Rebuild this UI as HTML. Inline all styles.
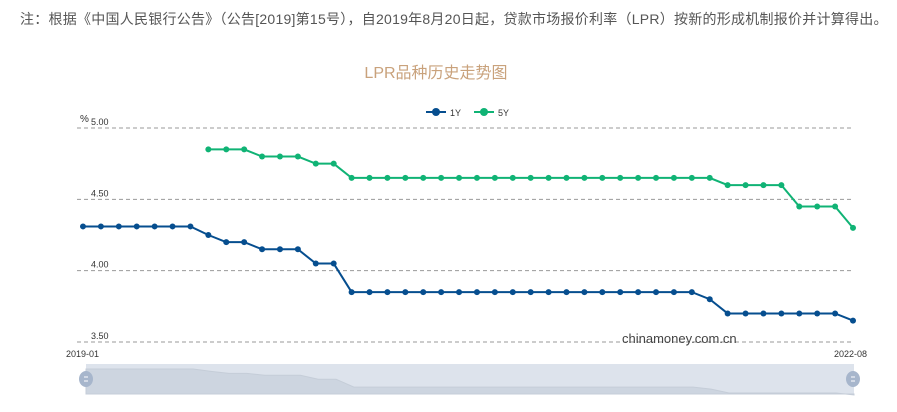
<!DOCTYPE html>
<html><head><meta charset="utf-8"><style>
body{margin:0;width:897px;height:412px;background:#fff;overflow:hidden;font-family:"Liberation Sans","Noto Sans CJK SC",sans-serif;}
#note{position:absolute;left:20px;top:9px;font-size:14px;color:#555;white-space:nowrap;letter-spacing:0.25px}
svg{position:absolute;left:0;top:0}
</style></head><body>
<div id="note">注：根据《中国人民银行公告》（公告[2019]第15号），自2019年8月20日起，贷款市场报价利率（LPR）按新的形成机制报价并计算得出。</div>
<svg id="c" width="897" height="412"></svg>
<script>
const yTicks=[5.00,4.50,4.00,3.50];
const xLabels=["2019-01","2022-08"];
const series1Y=[4.31,4.31,4.31,4.31,4.31,4.31,4.31,4.25,4.20,4.20,4.15,4.15,4.15,4.05,4.05,3.85,3.85,3.85,3.85,3.85,3.85,3.85,3.85,3.85,3.85,3.85,3.85,3.85,3.85,3.85,3.85,3.85,3.85,3.85,3.85,3.80,3.70,3.70,3.70,3.70,3.70,3.70,3.70,3.65];
const series5Y=[null,null,null,null,null,null,null,4.85,4.85,4.85,4.80,4.80,4.80,4.75,4.75,4.65,4.65,4.65,4.65,4.65,4.65,4.65,4.65,4.65,4.65,4.65,4.65,4.65,4.65,4.65,4.65,4.65,4.65,4.65,4.65,4.65,4.60,4.60,4.60,4.60,4.45,4.45,4.45,4.30];
const NS="http://www.w3.org/2000/svg",svg=document.getElementById('c');
const n=series1Y.length;
const X=i=>83+i*(770/(n-1));
const Y=v=>128+(5.0-v)*(214/1.5);
function el(t,a,p){const e=document.createElementNS(NS,t);for(const k in a)e.setAttribute(k,a[k]);(p||svg).appendChild(e);return e;}
let t=el('text',{x:436,y:78,'text-anchor':'middle','font-size':16,fill:'#c9a27c'});t.textContent='LPR品种历史走势图';


el('text',{x:80,y:122,'font-size':10,fill:'#333'}).textContent='%';
yTicks.forEach(v=>{
 const l=el('line',{x1:77,x2:852,y1:Y(v),y2:Y(v),stroke:'#999','stroke-dasharray':'4,3'});
 
 
 const tx=el('text',{x:91,y:Y(v)-3,'font-size':9,fill:'#333'});tx.textContent=v.toFixed(2);
 
 
});
[[66,xLabels[0]],[834,xLabels[1]]].forEach(([x,s])=>{const tx=el('text',{x:x,y:357,'font-size':9,fill:'#333'});tx.textContent=s;
 
 });
el('text',{x:622,y:343,'font-size':13,fill:'#444'}).textContent='chinamoney.com.cn';
function draw(data,color,name){
 const g=el('g',{});
 
 
 let d='';data.forEach((v,i)=>{if(v==null)return;d+=(d?'L':'M')+X(i)+','+Y(v);});
 el('path',{d:d,fill:'none',stroke:color,'stroke-width':2},g);
 data.forEach((v,i)=>{if(v==null)return;const c=el('circle',{cx:X(i),cy:Y(v),r:3,fill:color},g);
  
  });
}
draw(series1Y,'#064e8f','series-1y');
draw(series5Y,'#10b375','series-5y');
[[426,'#064e8f','1Y'],[474,'#10b375','5Y']].forEach(([x,c,s])=>{
 const g=el('g',{});
 
 
 el('line',{x1:x,x2:x+20,y1:112,y2:112,stroke:c,'stroke-width':2},g);
 el('circle',{cx:x+10,cy:112,r:4,fill:c},g);
 el('text',{x:x+24,y:116,'font-size':9,fill:'#333'},g).textContent=s;
});
const sl=el('g',{});


el('rect',{x:86,y:364,width:768,height:30,fill:'#dde3ec'},sl);
let ad='M86,394';series1Y.forEach((v,i)=>{ad+='L'+(86+i*768/(n-1))+','+(369+(4.31-v)*26/0.66);});ad+='L854,394Z';
el('path',{d:ad,fill:'#cdd5e0',stroke:'#c5cdd8'},sl);
[86,853].forEach(x=>{const h=el('ellipse',{cx:x,cy:379,rx:7,ry:8,fill:'#a7b6cc'},sl);
 
 
 el('line',{x1:x-2,x2:x+2,y1:377,y2:377,stroke:'#fff'},sl);el('line',{x1:x-2,x2:x+2,y1:381,y2:381,stroke:'#fff'},sl);});
</script>
</body></html>
